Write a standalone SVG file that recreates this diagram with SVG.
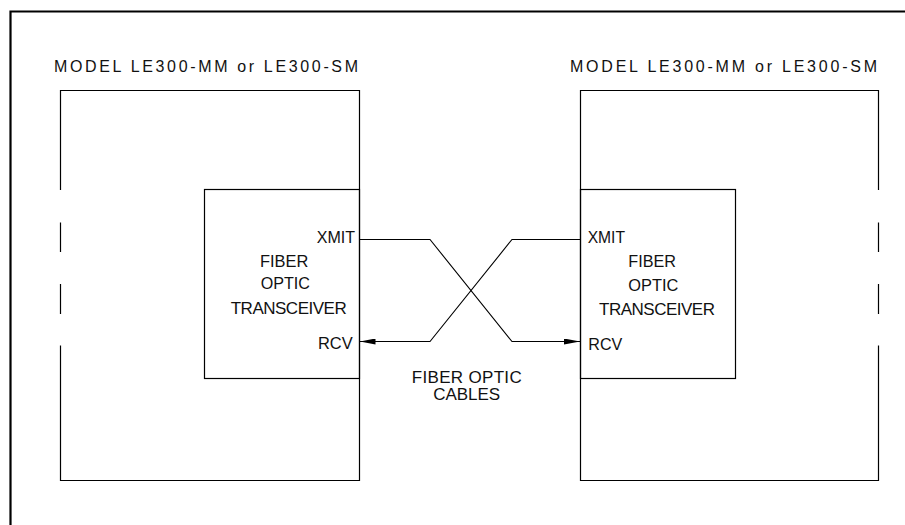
<svg xmlns="http://www.w3.org/2000/svg" width="905" height="525" viewBox="0 0 905 525">
  <style>
    .box { fill: none; stroke: #000; stroke-width: 1.2; }
    .frame { fill: none; stroke: #000; stroke-width: 2.2; }
    .wire { fill: none; stroke: #000; stroke-width: 1.1; }
    .t { font-family: "Liberation Sans", Arial, sans-serif; font-size: 17px; fill: #111; }
    .title { font-family: "Liberation Sans", Arial, sans-serif; font-size: 16px; fill: #111; }
  </style>
  <defs>
    <marker id="arrow" viewBox="0 0 16 6" refX="16" refY="3" markerWidth="16" markerHeight="6" markerUnits="userSpaceOnUse" orient="auto">
      <path d="M0,0 L16,3 L0,6 Z" fill="#000"/>
    </marker>
  </defs>
  <rect width="905" height="525" fill="#fff"/>

  <g id="frame">
    <path class="frame" d="M10.5,525 V11.5 H905"/>
  </g>

  <g id="left-unit">
    <text class="title" x="54" y="71.5" textLength="304" lengthAdjust="spacing">MODEL LE300-MM or LE300-SM</text>
    <path class="box" d="M60.5,190 V90.5 H359.5 V480.5 H60.5 V345.5 M60.5,222.5 V252 M60.5,284 V314"/>
  </g>

  <g id="right-unit">
    <text class="title" x="570" y="71.5" textLength="307" lengthAdjust="spacing">MODEL LE300-MM or LE300-SM</text>
    <path class="box" d="M878.5,190 V90.5 H580.5 V480.5 H878.5 V345.5 M878.5,222.5 V252 M878.5,284 V314"/>
  </g>

  <g id="left-transceiver">
    <rect class="box" x="204.5" y="189.5" width="155" height="189"/>
    <text class="t" x="316.7" y="243" textLength="38.3" lengthAdjust="spacingAndGlyphs">XMIT</text>
    <text class="t" x="260" y="267" textLength="48.3" lengthAdjust="spacingAndGlyphs">FIBER</text>
    <text class="t" x="260.7" y="289.3" textLength="49.3" lengthAdjust="spacingAndGlyphs">OPTIC</text>
    <text class="t" x="230.7" y="313.8" textLength="116" lengthAdjust="spacing">TRANSCEIVER</text>
    <text class="t" x="318" y="348.8" textLength="34.7" lengthAdjust="spacingAndGlyphs">RCV</text>
  </g>

  <g id="right-transceiver">
    <rect class="box" x="580.5" y="189.5" width="155" height="189"/>
    <text class="t" x="587.7" y="243" textLength="37.3" lengthAdjust="spacingAndGlyphs">XMIT</text>
    <text class="t" x="628.3" y="267" textLength="47.7" lengthAdjust="spacingAndGlyphs">FIBER</text>
    <text class="t" x="628.3" y="291" textLength="50" lengthAdjust="spacingAndGlyphs">OPTIC</text>
    <text class="t" x="599" y="315.3" textLength="116" lengthAdjust="spacing">TRANSCEIVER</text>
    <text class="t" x="588.3" y="349.6" textLength="34" lengthAdjust="spacingAndGlyphs">RCV</text>
  </g>

  <g id="cables-label">
    <text class="t" x="411.7" y="383" textLength="110" lengthAdjust="spacing">FIBER OPTIC</text>
    <text class="t" x="433.3" y="400.3" textLength="66.7" lengthAdjust="spacing">CABLES</text>
  </g>

  <g id="connectors">
    <path class="wire" d="M359.5,239.5 H430 L512,341.5 H580" marker-end="url(#arrow)"/>
    <path class="wire" d="M580.5,239.5 H512 L430,341.5 H359.5" marker-end="url(#arrow)"/>
  </g>
</svg>
